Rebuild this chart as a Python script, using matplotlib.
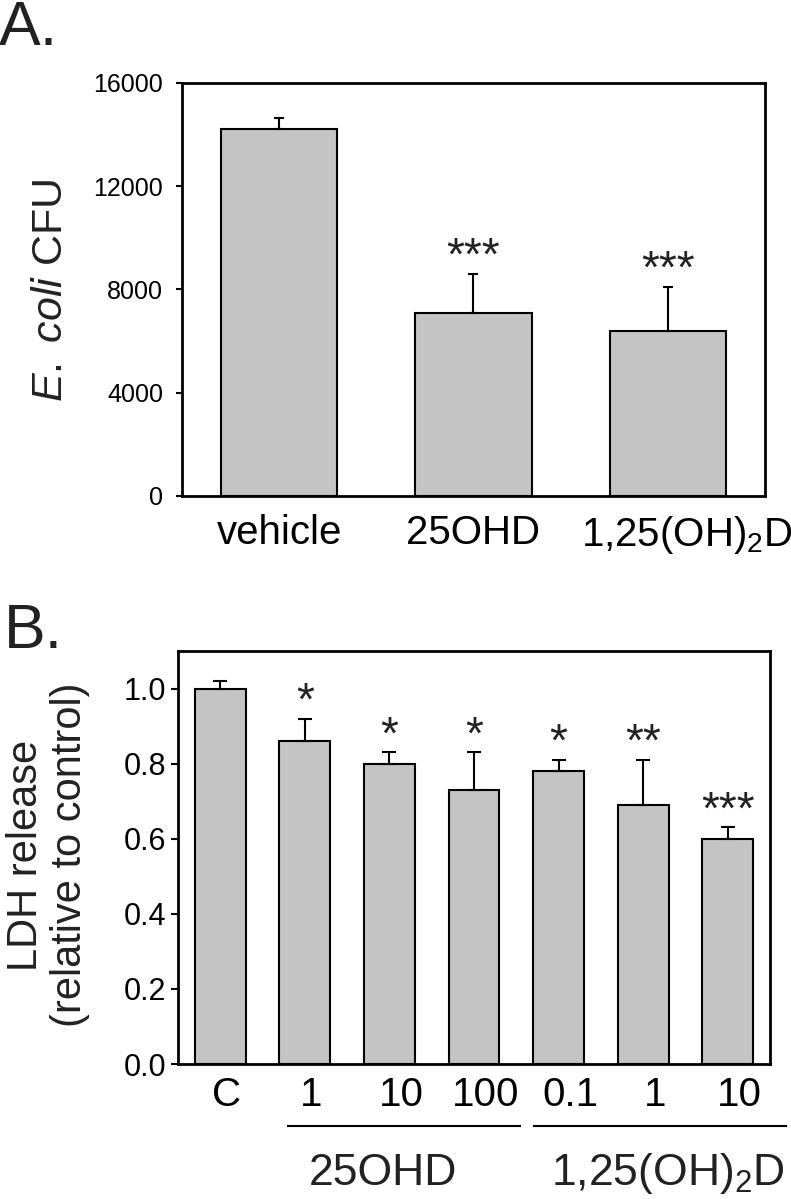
import matplotlib
matplotlib.use("Agg")
import matplotlib.pyplot as plt
import matplotlib.transforms as mtransforms

plt.rcParams['font.family'] = ['Liberation Sans', 'DejaVu Sans']
plt.rcParams['mathtext.fontset'] = 'custom'
plt.rcParams['mathtext.rm'] = 'Liberation Sans'
plt.rcParams['mathtext.it'] = 'Liberation Sans:italic'
plt.rcParams['text.color'] = '#222222'

# panel A: E. coli CFU
a_labels = ["vehicle", "25OHD", "1,25(OH)$_2$D"]
a_cfu = [14200, 7100, 6400]
a_err = [450, 1500, 1700]
a_stars = ["", "***", "***"]
a_yticks = [0, 4000, 8000, 12000, 16000]

# panel B: LDH release
b_labels = ["C", "1", "10", "100", "0.1", "1", "10"]
b_ldh = [1.00, 0.86, 0.80, 0.73, 0.78, 0.69, 0.60]
b_err = [0.02, 0.06, 0.03, 0.10, 0.03, 0.12, 0.03]
b_stars = ["", "*", "*", "*", "*", "**", "***"]
b_yticks = [0.0, 0.2, 0.4, 0.6, 0.8, 1.0]
b_groups = ["25OHD", "1,25(OH)$_2$D"]

W, H = 791, 1199
fig = plt.figure(figsize=(W / 100, H / 100), dpi=100)


def box(left, top, right, bottom):
    return [left / W, 1 - bottom / H, (right - left) / W, (bottom - top) / H]


def shift(label, px):
    label.set_transform(label.get_transform() +
                        mtransforms.ScaledTranslation(px / 100, 0, fig.dpi_scale_trans))


bar_color = '#c4c4c4'

# ---------- A ----------
ax = fig.add_axes(box(182, 83, 765, 496))
xa = list(range(len(a_cfu)))
ax.bar(xa, a_cfu, width=0.6, color=bar_color, edgecolor='black', linewidth=1.5,
       yerr=[[0] * len(a_err), a_err], error_kw=dict(ecolor='black', elinewidth=1.5,
                                                     capsize=3.6, capthick=1.5))
for x, v, e, s in zip(xa, a_cfu, a_err, a_stars):
    if s:
        ax.annotate(s, (x, v + e), xytext=(0, 3), textcoords='offset points',
                    ha='center', va='baseline', fontsize=33)
ax.set_xlim(-0.5, 2.5)
ax.set_ylim(0, 16000)
ax.set_yticks(a_yticks)
ax.set_xticks(xa)
ax.set_xticklabels(a_labels, fontsize=29)
ax.tick_params(axis='x', length=0, pad=13)
ax.tick_params(axis='y', direction='out', length=4.5, width=1.5, pad=9, labelsize=18)
for sp in ax.spines.values():
    sp.set_linewidth(2)
shift(ax.get_xticklabels()[2], 19)
fig.text(51 / W, 1 - 290 / H, r"$\it{E.}$ $\it{coli}$ CFU", rotation=90, ha='center',
         va='center', fontsize=31)
fig.text(-1 / W, 1 - 45 / H, "A.", fontsize=45, ha='left', va='baseline')

# ---------- B ----------
bx = fig.add_axes(box(178, 651, 770, 1064))
xb = list(range(len(b_ldh)))
bx.bar(xb, b_ldh, width=0.6, color=bar_color, edgecolor='black', linewidth=1.5,
       yerr=[[0] * len(b_err), b_err], error_kw=dict(ecolor='black', elinewidth=1.5,
                                                     capsize=4.8, capthick=1.5))
for x, v, e, s in zip(xb, b_ldh, b_err, b_stars):
    if s:
        bx.annotate(s, (x, v + e), xytext=(0, 3), textcoords='offset points',
                    ha='center', va='baseline', fontsize=33)
bx.set_xlim(-0.5, 6.5)
bx.set_ylim(0, 1.1)
bx.set_yticks(b_yticks)
bx.set_yticklabels([f"{t:.1f}" for t in b_yticks])
bx.set_xticks(xb)
bx.set_xticklabels(b_labels, fontsize=29)
bx.tick_params(axis='x', length=0, pad=9)
bx.tick_params(axis='y', direction='out', length=4.8, width=1.5, pad=3.5, labelsize=22)
for sp in bx.spines.values():
    sp.set_linewidth(2)
for i, lab in enumerate(bx.get_xticklabels()):
    shift(lab, 6 if i < 2 else 12)

# group underlines and names
trans = mtransforms.blended_transform_factory(bx.transData, bx.transAxes)
line_y = -(1126 - 1064) / 413
bx.plot([0.795, 3.545], [line_y, line_y], color='black', lw=1.5, transform=trans, clip_on=False)
bx.plot([3.71, 6.69], [line_y, line_y], color='black', lw=1.5, transform=trans, clip_on=False)
name_y = -(1185 - 1064) / 413
for gx, g in zip([1.92, 5.29], b_groups):
    bx.text(gx, name_y, g, transform=trans, ha='center', va='baseline', fontsize=32)

fig.text(48 / W, 1 - 855 / H, "LDH release\n(relative to control)", rotation=90,
         ha='center', va='center', multialignment='center', fontsize=30, linespacing=1.1)
fig.text(4 / W, 1 - 648 / H, "B.", fontsize=45, ha='left', va='baseline')

fig.savefig("out.png", dpi=100)
